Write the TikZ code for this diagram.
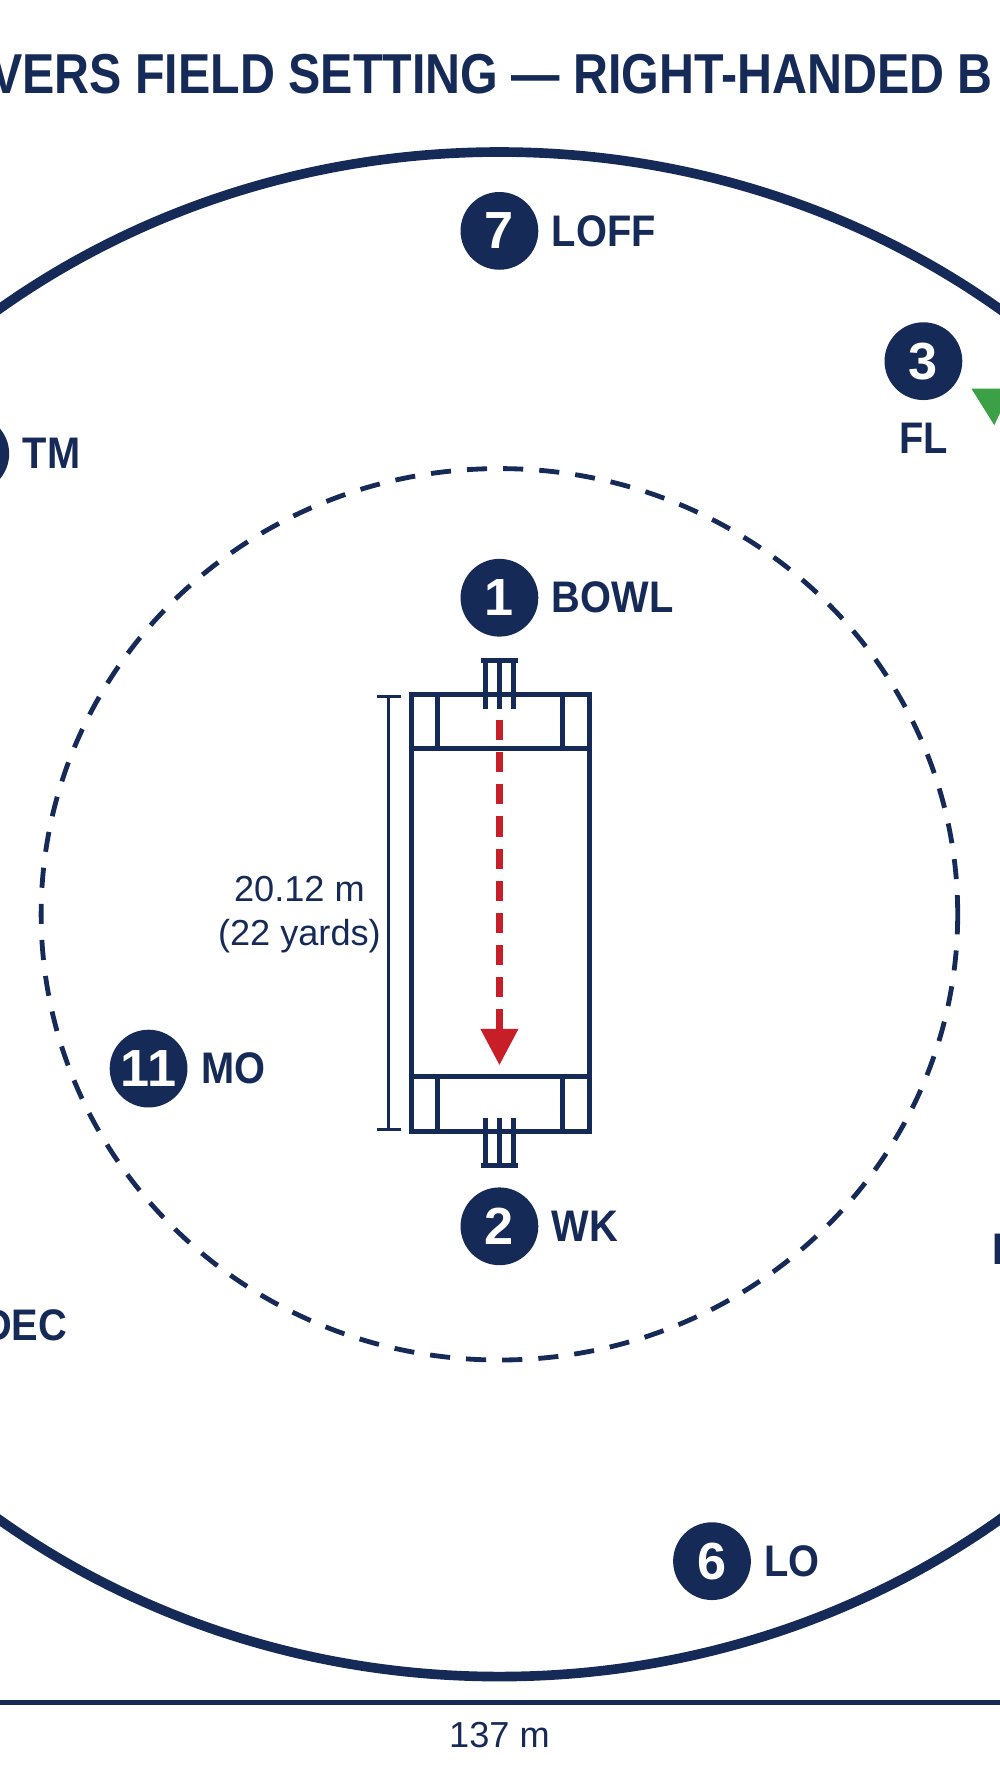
\documentclass[tikz,border=0pt]{standalone}
\usepackage{fontspec}
\setmainfont{Liberation Sans}
\usetikzlibrary{positioning,arrows.meta}
\definecolor{navy}{RGB}{22,42,88}
\definecolor{pitchred}{RGB}{200,30,40}
\definecolor{marker}{RGB}{60,160,70}
\begin{document}
\begin{tikzpicture}[x=0.01cm,y=-0.01cm,
    fielder/.style={circle, fill=navy, minimum size=0.68cm, inner sep=0pt, text=white, font=\bfseries\fontsize{13}{13}\selectfont},
    tag/.style={text=navy, font=\bfseries\fontsize{11}{11}\selectfont, xscale=0.9},
    dim/.style={text=navy, font=\fontsize{9}{11}\selectfont, align=center},
    line/.style={navy, line width=1.2pt}]
    % Frame
    \useasboundingbox (0,0) rectangle (875,1568);
    \clip (0,0) rectangle (875,1568);
    \fill[white] (0,0) rectangle (875,1568);
    % Title
    \node (title) [text=navy, font=\bfseries\fontsize{14}{14}\selectfont, xscale=0.86] at (430,65) {VERS FIELD SETTING — RIGHT-HANDED B};
    % Boundary and inner circle
    \draw[navy, line width=2.4pt] (437,800) ellipse [x radius=720, y radius=667];
    \draw[navy, line width=1.2pt, dash pattern=on 5pt off 4pt] (437,800) ellipse [x radius=401, y radius=390];
    % Pitch
    \draw[line] (360,608) rectangle (516,990);
    \draw[line] (360,655) -- (516,655);
    \draw[line] (360,942) -- (516,942);
    \foreach \x in {383,492} {
        \draw[line] (\x,608) -- (\x,655);
        \draw[line] (\x,942) -- (\x,990);
    }
    \foreach \x in {425,437,449} {
        \draw[line] (\x,578) -- (\x,620);
        \draw[line] (\x,978) -- (\x,1020);
    }
    \draw[line] (421,578) -- (453,578);
    \draw[line] (421,1020) -- (453,1020);
    % Delivery
    \coordinate (release) at (437,630);
    \coordinate (arrive) at (437,932);
    \draw[pitchred, line width=1.6pt, dash pattern=on 5pt off 3pt, -{Triangle[length=9pt,width=9pt]}] (release) -- (arrive);
    % Pitch length
    \coordinate (dtop) at (340,608);
    \coordinate (dbot) at (340,990);
    \draw[line, line width=0.9pt, {Bar[width=6pt]}-{Bar[width=6pt]}] (dtop) -- (dbot);
    \node (len) [dim] at (262,800) {20.12 m\\(22 yards)};
    % Ground width
    \coordinate (gleft) at (0,1490);
    \coordinate (gright) at (875,1490);
    \draw[line] (gleft) -- (gright);
    \node (gw) [dim] at (437,1518) {137 m};
    % Fielders
    \node (f7) [fielder] at (437,202) {7};
    \node [tag, right=0pt of f7] {LOFF};
    \node (f3) [fielder] at (808,316) {3};
    \node [tag, below=2pt of f3] {FL};
    \fill[marker] (850,340) -- (885,340) -- (870,372) -- cycle;
    \node (f1) [fielder] at (437,523) {1};
    \node [tag, right=0pt of f1] {BOWL};
    \node (f11) [fielder] at (130,935) {11};
    \node [tag, right=0pt of f11] {MO};
    \node (f2) [fielder] at (437,1073) {2};
    \node [tag, right=0pt of f2] {WK};
    \node (f6) [fielder] at (623,1366) {6};
    \node [tag, right=0pt of f6] {LO};
    \node (f4) [fielder] at (-26,397) {};
    \node [tag, right=0pt of f4] {TM};
    \node (dec) [tag] at (22,1160) {DEC};
    \node (d) [tag, anchor=west] at (857,1093) {D};
\end{tikzpicture}
\end{document}
